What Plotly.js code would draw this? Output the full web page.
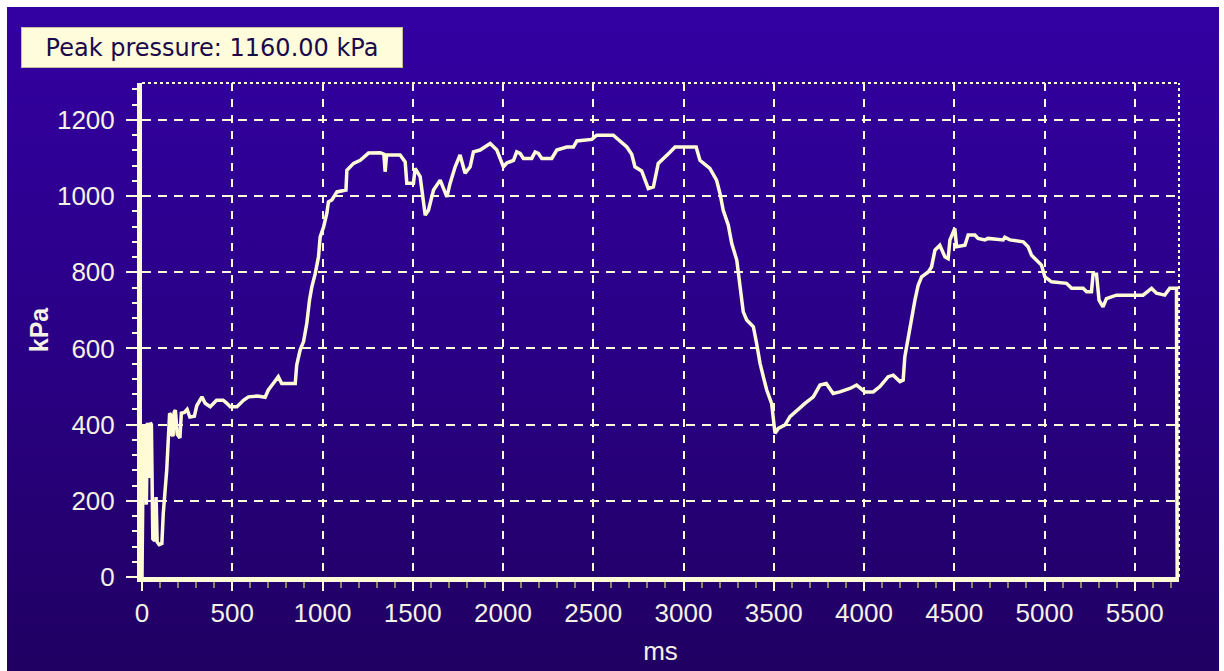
<!DOCTYPE html>
<html>
<head>
<meta charset="utf-8">
<script src="https://cdn.plot.ly/plotly-3.0.1.min.js"></script>
<style>
  html, body { margin: 0; padding: 0; background: #ffffff; }
  #frame {
    position: absolute; left: 7px; top: 7px; width: 1212px; height: 664px;
    background: linear-gradient(to bottom, #3300a2 0%, #2a0086 50%, #200062 100%);
  }
  #chart { position: absolute; left: 0; top: 0; width: 1224px; height: 671px; }
</style>
</head>
<body>
<div id="frame"></div>
<div id="chart"></div>
<script>
// Pressure trace: time in ms, pressure in kPa
const timeMs = [
  0, 3, 8, 12, 18, 24, 30, 40, 46, 52, 55, 60, 70, 78, 84, 95, 110, 118, 137, 147,
  153, 160, 165, 172, 178, 185, 195, 210, 218, 235, 250, 265, 290, 303, 332, 350, 378, 413, 450, 470,
  489, 526, 562, 590, 640, 682, 700, 727, 755, 774, 849, 857, 876, 895, 913, 928, 941, 960, 978, 987,
  1006, 1024, 1033, 1052, 1080, 1130, 1135, 1172, 1209, 1255, 1320, 1340, 1347, 1355, 1375, 1430, 1458, 1467, 1504, 1513,
  1541, 1569, 1587, 1615, 1652, 1670, 1689, 1707, 1735, 1762, 1790, 1818, 1836, 1873, 1929, 1966, 2002, 2021, 2058, 2076,
  2095, 2113, 2159, 2178, 2196, 2215, 2270, 2298, 2353, 2390, 2409, 2492, 2519, 2611, 2648, 2686, 2713, 2731, 2768, 2805,
  2833, 2860, 2925, 2953, 3070, 3091, 3146, 3183, 3202, 3220, 3248, 3267, 3295, 3313, 3331, 3350, 3387, 3405, 3424, 3442,
  3461, 3488, 3507, 3525, 3562, 3590, 3627, 3673, 3719, 3756, 3791, 3829, 3866, 3922, 3959, 4005, 4051, 4088, 4134, 4162,
  4199, 4217, 4226, 4245, 4263, 4282, 4300, 4319, 4356, 4374, 4393, 4420, 4448, 4466, 4476, 4503, 4513, 4559, 4577, 4614,
  4632, 4669, 4688, 4771, 4780, 4808, 4882, 4909, 4928, 4956, 4983, 5002, 5039, 5122, 5150, 5214, 5233, 5260, 5269, 5288,
  5302, 5324, 5343, 5398, 5546, 5593, 5620, 5666, 5694, 5731, 5735
];
const pressureKPa = [
  0, 290, 400, 230, 400, 190, 405, 260, 405, 400, 224, 100, 95, 210, 92, 85, 88, 168, 281, 368,
  430, 425, 375, 370, 432, 438, 375, 365, 430, 432, 440, 420, 422, 449, 473, 456, 447, 464, 464, 456,
  447, 447, 464, 473, 475, 472, 491, 508, 526, 508, 508, 556, 596, 618, 666, 727, 762, 797, 841, 893,
  919, 955, 985, 990, 1011, 1016, 1068, 1086, 1094, 1113, 1114, 1110, 1064, 1108, 1108, 1108, 1090, 1034, 1034, 1073,
  1051, 950, 963, 1016, 1042, 1021, 998, 1034, 1077, 1108, 1060, 1077, 1116, 1121, 1138, 1121, 1077, 1087, 1094, 1116,
  1112, 1099, 1099, 1116, 1112, 1099, 1099, 1121, 1129, 1129, 1145, 1149, 1160, 1160, 1145, 1129, 1110, 1077, 1066, 1020,
  1024, 1086, 1115, 1129, 1129, 1094, 1073, 1042, 1007, 963, 924, 876, 832, 762, 696, 675, 657, 613, 561, 526,
  491, 456, 377, 390, 399, 421, 438, 456, 473, 504, 508, 482, 486, 495, 504, 486, 486, 500, 526, 530,
  513, 517, 578, 631, 683, 727, 766, 788, 801, 814, 858, 871, 841, 836, 885, 915, 867, 871, 898, 898,
  889, 885, 889, 885, 892, 885, 880, 867, 845, 832, 819, 788, 775, 771, 758, 758, 749, 749, 795, 795,
  727, 709, 731, 740, 740, 758, 745, 740, 758, 758, 0
];
const xTicks = [0, 500, 1000, 1500, 2000, 2500, 3000, 3500, 4000, 4500, 5000, 5500];
const yTicks = [0, 200, 400, 600, 800, 1000, 1200];

const cream = '#fffbd6';
const tickFont = { family: 'Liberation Sans, Arial, sans-serif', size: 26, color: '#f4f2e4' };
const peak = Math.max(...pressureKPa);

const trace = {
  x: timeMs,
  y: pressureKPa,
  type: 'scatter',
  mode: 'lines',
  line: { color: cream, width: 3.5 },
  hoverinfo: 'x+y'
};

const layout = {
  width: 1224,
  height: 671,
  paper_bgcolor: 'rgba(0,0,0,0)',
  plot_bgcolor: 'rgba(0,0,0,0)',
  margin: { l: 142, r: 45, t: 83, b: 94 },
  showlegend: false,
  font: tickFont,
  xaxis: {
    range: [0, 5745],
    tickvals: xTicks,
    ticktext: xTicks.map(String),
    ticks: 'outside', ticklen: 9, tickwidth: 2, tickcolor: cream,
    tickfont: tickFont,
    ticklabelstandoff: 0,
    showline: true, linecolor: cream, linewidth: 5,
    showgrid: true, gridcolor: cream, gridwidth: 2, griddash: '8px,8px',
    zeroline: false,
    minor: { dtick: 100, ticks: 'outside', ticklen: 6, tickwidth: 2, tickcolor: '#8c8466', showgrid: false },
    title: { text: 'ms', font: tickFont, standoff: 16 }
  },
  yaxis: {
    range: [0, 1297],
    tickvals: yTicks,
    ticktext: yTicks.map(String),
    ticks: 'outside', ticklen: 11, tickwidth: 2, tickcolor: cream,
    tickfont: tickFont,
    ticklabelstandoff: 6,
    showline: true, linecolor: cream, linewidth: 5,
    showgrid: true, gridcolor: cream, gridwidth: 2, griddash: '9px,7px',
    zeroline: false,
    minor: { dtick: 40, ticks: 'outside', ticklen: 5, tickwidth: 2, tickcolor: cream, showgrid: false },
    title: { text: '<b>kPa</b>', font: { family: 'Liberation Sans, Arial, sans-serif', size: 25, color: '#f4f2e4' }, standoff: 3 }
  },
  shapes: [
    // dotted frame on the top and right of the plot area
    { type: 'line', xref: 'paper', yref: 'paper', x0: 0, x1: 1, y0: 1, y1: 1,
      line: { color: cream, width: 2, dash: 'dot' } },
    { type: 'line', xref: 'paper', yref: 'paper', x0: 1, x1: 1, y0: 0, y1: 1,
      line: { color: cream, width: 2, dash: 'dot' } }
  ],
  annotations: [{
    xref: 'paper', yref: 'paper',
    x: -0.1167, y: 1.072, xanchor: 'left', yanchor: 'middle',
    text: 'Peak pressure: ' + peak.toFixed(2) + ' kPa',
    showarrow: false,
    width: 370, height: 29, align: 'center',
    font: { family: 'DejaVu Sans, sans-serif', size: 24, color: '#1a0a4a' },
    bgcolor: '#fffcdc',
    bordercolor: '#c8bf9a', borderwidth: 1, borderpad: 5
  }]
};

Plotly.newPlot('chart', [trace], layout, { displayModeBar: false, staticPlot: true });
</script>
</body>
</html>
